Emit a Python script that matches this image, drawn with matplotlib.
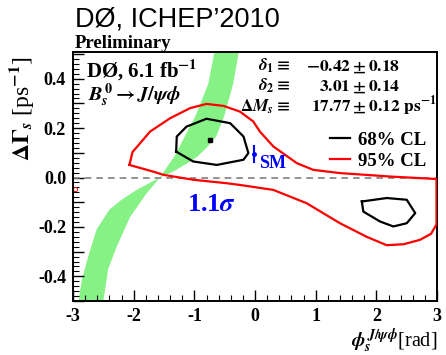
import matplotlib.pyplot as plt
from matplotlib.ticker import MultipleLocator, FuncFormatter
import numpy as np

plt.rcParams['font.family'] = ['Liberation Serif', 'DejaVu Serif']
plt.rcParams['font.weight'] = 'bold'
plt.rcParams['mathtext.fontset'] = 'stix'

# 95% CL contour (phi_s [rad], DeltaGamma_s [ps^-1])
cl95_phi = [-2.07, -2.02, -1.73, -1.40, -1.07, -0.80, -0.52, -0.25, -0.03, 0.08, 0.30, 0.69,
            0.96, 1.40, 2.23, 2.99, 2.99, 2.99, 2.90, 2.72, 2.45, 2.17, 1.84, 1.40, 0.85, 0.30,
            -0.25, -0.47, -1.02, -1.51, -1.68, -2.07]
cl95_dg = [0.051, 0.103, 0.186, 0.240, 0.281, 0.298, 0.290, 0.267, 0.227, 0.186, 0.126, 0.058,
           0.031, 0.018, 0.004, -0.006, -0.158, -0.19, -0.228, -0.252, -0.270, -0.274, -0.240,
           -0.185, -0.104, -0.050, -0.030, -0.023, -0.009, 0.011, 0.024, 0.051]

# 68% CL contours
cl68a_phi = [-1.30, -1.29, -1.13, -0.80, -0.41, -0.19, -0.11, -0.19, -0.63, -1.02, -1.30]
cl68a_dg = [0.105, 0.166, 0.206, 0.238, 0.220, 0.166, 0.099, 0.072, 0.051, 0.065, 0.105]
cl68b_phi = [1.76, 2.17, 2.50, 2.64, 2.50, 2.28, 2.06, 1.785, 1.76]
cl68b_dg = [-0.097, -0.083, -0.090, -0.144, -0.185, -0.198, -0.178, -0.138, -0.097]

best_phi = [-0.74]
best_dg = [0.153]

sm_phi = [-0.02]
sm_dg = [0.095]
sm_err = [0.035]

# semileptonic asymmetry band, two edges read bottom -> top
band_a_phi = [-2.91, -2.85, -2.75, -2.61, -2.40, -2.20, -1.95, -1.57, -1.35, -1.10, -0.95,
              -0.80, -0.64, -0.51, -0.36, -0.26]
band_a_dg = [-0.50, -0.41, -0.32, -0.21, -0.13, -0.09, -0.05, 0.0, 0.024, 0.06, 0.085,
             0.12, 0.166, 0.247, 0.38, 0.52]
band_b_phi = [-2.50, -2.42, -2.28, -2.06, -1.79, -1.57, -1.33, -1.15, -0.98, -0.77, -0.66]
band_b_dg = [-0.50, -0.37, -0.28, -0.16, -0.065, 0.0, 0.085, 0.17, 0.25, 0.38, 0.52]

stray_phi = [-2.97]
stray_dg = [-0.046]

fig = plt.figure(figsize=(4.46, 3.55), dpi=100)
ax = fig.add_axes([0.1637, 0.152, 0.8163, 0.7014])

ax.fill(np.r_[band_a_phi, band_b_phi[::-1]], np.r_[band_a_dg, band_b_dg[::-1]],
        color='#86f286', lw=0, zorder=1)
ax.axhline(0, color='0.5', ls=(0, (4, 3)), lw=1.2, zorder=2)
l95, = ax.plot(cl95_phi, cl95_dg, color='red', lw=1.6, zorder=3)
l68, = ax.plot(cl68a_phi, cl68a_dg, color='black', lw=1.6, zorder=3)
ax.plot(cl68b_phi, cl68b_dg, color='black', lw=1.6, zorder=3)
ax.plot(best_phi, best_dg, 's', color='black', ms=3, zorder=4)
ax.errorbar(sm_phi, sm_dg, yerr=sm_err, fmt='o', color='blue', ms=2.5, lw=1.5, capsize=0, zorder=4)
ax.plot(stray_phi, stray_dg, 'o', mfc='none', color='red', ms=3, mew=0.7, clip_on=False)

ax.set_xlim(-3, 3)
ax.set_ylim(-0.5, 0.508)
ax.xaxis.set_major_locator(MultipleLocator(1))
ax.xaxis.set_minor_locator(MultipleLocator(0.2))
ax.yaxis.set_major_locator(MultipleLocator(0.1))
ax.yaxis.set_minor_locator(MultipleLocator(0.02))
ax.xaxis.set_major_formatter(FuncFormatter(lambda v, p: '%d' % round(v)))
ax.yaxis.set_major_formatter(FuncFormatter(
    lambda v, p: '%.1f' % v if abs(round(v / 0.2) * 0.2 - v) < 1e-6 else ''))
ax.tick_params(which='both', direction='in', top=False, right=False, labelsize=13)
ax.tick_params(which='major', length=8, width=1)
ax.tick_params(which='minor', length=4, width=0.8)
ax.tick_params(axis='x', pad=5)
ax.tick_params(axis='y', pad=5)
for s in ax.spines.values():
    s.set_linewidth(1.4)

ax.text(-2.78, 0.405, r'DØ, 6.1 fb$^{\mathbf{-1}}$', fontsize=15, va='baseline')
ax.text(-2.75, 0.312, r'$B_s^0 \rightarrow J/\psi\phi$', fontsize=14.5, va='baseline')
ax.text(0.05, 0.432, r'$\delta_1 \equiv$', fontsize=12.5, va='baseline')
ax.text(2.39, 0.432, r'$-0.42 \pm 0.18$', fontsize=12.5, va='baseline', ha='right')
ax.text(0.05, 0.350, r'$\delta_2 \equiv$', fontsize=12.5, va='baseline')
ax.text(2.39, 0.350, r'$3.01 \pm 0.14$', fontsize=12.5, va='baseline', ha='right')
ax.text(-0.25, 0.268, r'$\Delta M_s \equiv$', fontsize=12.5, va='baseline')
ax.text(3.0, 0.268, r'$17.77 \pm 0.12\ \mathrm{ps}^{-1}$', fontsize=12.5, va='baseline', ha='right')

ax.text(0.06, 0.055, 'SM', color='blue', fontsize=13, va='center')
ax.text(-0.71, -0.11, r'1.1$\sigma$', color='blue', fontsize=19, va='center', ha='center')

ax.legend([l68, l95], ['68% CL', '95% CL'], loc='upper left', bbox_to_anchor=(0.705, 0.68),
          frameon=False, fontsize=13.5, handlelength=1.1, handletextpad=0.4,
          labelspacing=0.2, borderpad=0, borderaxespad=0)

fig.text(75 / 446, 1 - 27 / 355, 'DØ, ICHEP’2010', family='Liberation Sans',
         fontweight='normal', fontsize=19.5, va='baseline')
fig.text(75 / 446, 1 - 47.7 / 355, 'Preliminary', fontsize=13.5, va='baseline')
fig.text(21 / 446, 1 - 109 / 355, r'$\Delta\Gamma_s$ [ps$^{-1}$]', fontweight='normal',
         fontsize=17, rotation=90, ha='center', va='center')
fig.text(437 / 446, 1 - 346 / 355, r'$\phi_s^{J/\psi\phi}$[rad]', fontweight='normal',
         fontsize=14.5, ha='right', va='baseline')

fig.savefig('out.png', dpi=100)
